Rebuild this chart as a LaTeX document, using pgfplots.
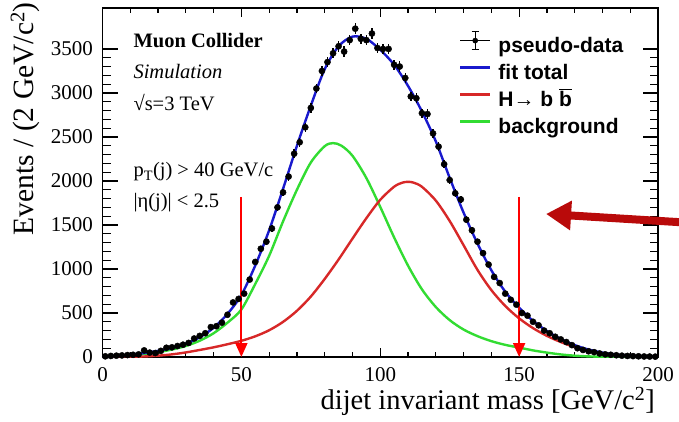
\documentclass[border=0pt]{standalone}
\usepackage{fontspec}
\setmainfont{Liberation Serif}
\newfontfamily\helv{Liberation Sans}
\usepackage{pgfplots}
\pgfplotsset{compat=1.18}
\usepackage{pgfplotstable}
\usetikzlibrary{arrows.meta}

\definecolor{fitblue}{RGB}{25,25,205}
\definecolor{sigred}{RGB}{215,40,40}
\definecolor{bkggreen}{RGB}{50,220,50}
\definecolor{arrowred}{RGB}{185,10,10}
\definecolor{cutred}{RGB}{255,0,0}

% pseudo-data: bin centre, events per 2 GeV/c^2, statistical error
\pgfplotstableread{
x y ey
1 8 2.8
3 12 3.5
5 15 3.9
7 18 4.2
9 22 4.7
11 25 5.0
13 30 5.5
15 75 8.7
17 50 7.1
19 45 6.7
21 70 8.4
23 105 10.2
25 110 10.5
27 125 11.2
29 140 11.8
31 160 12.6
33 210 14.5
35 240 15.5
37 270 16.4
39 340 18.4
41 350 18.7
43 390 19.7
45 480 21.9
47 620 24.9
49 660 25.7
51 720 26.8
53 880 29.7
55 1080 32.9
57 1230 35.1
59 1310 36.2
61 1460 38.2
63 1700 41.2
65 1870 43.2
67 2050 45.3
69 2310 48.1
71 2440 49.4
73 2610 51.1
75 2830 53.2
77 3050 55.2
79 3250 57.0
81 3350 57.9
83 3450 58.7
85 3530 59.4
87 3470 58.9
89 3600 60.0
91 3730 61.1
93 3615 60.1
95 3600 60.0
97 3675 60.6
99 3510 59.2
101 3500 59.2
103 3500 59.2
105 3320 57.6
107 3300 57.4
109 3170 56.3
111 2960 54.4
113 2940 54.2
115 2770 52.6
117 2760 52.5
119 2540 50.4
121 2390 48.9
123 2190 46.8
125 2010 44.8
127 1860 43.1
129 1790 42.3
131 1560 39.5
133 1440 37.9
135 1310 36.2
137 1180 34.4
139 1050 32.4
141 910 30.2
143 840 29.0
145 720 26.8
147 650 25.5
149 595 24.4
151 500 22.4
153 470 21.7
155 400 20.0
157 360 19.0
159 300 17.3
161 270 16.4
163 230 15.2
165 200 14.1
167 170 13.0
169 135 11.6
171 100 10.0
173 80 8.9
175 65 8.1
177 55 7.4
179 40 6.3
181 30 5.5
183 25 5.0
185 20 4.5
187 15 3.9
189 12 3.5
191 10 3.2
193 8 2.8
195 6 2.4
197 5 2.2
199 4 2.0
}\pseudodata

% fitted total
\pgfplotstableread{
x y
0 5
5 12
10 25
15 45
20 70
25 104
30 152
35 224
40 332
45 490
50 705
55 1040
60 1440
65 1910
70 2400
75 2855
80 3270
85 3530
90 3640
95 3615
100 3490
105 3320
110 3080
115 2790
120 2450
125 2035
130 1640
135 1290
140 985
145 742
150 560
155 410
160 295
165 205
170 135
175 85
180 50
185 27
190 14
195 7
200 3
}\fittotal

% H -> b bbar component
\pgfplotstableread{
x y
0 0
10 2
15 6
20 15
25 30
30 52
35 80
40 110
45 145
50 184
55 235
60 304
65 399
70 525
75 687
80 887
85 1108
90 1345
95 1577
100 1786
105 1935
108 1981
110 1990
112 1981
115 1934
120 1777
125 1545
130 1270
135 990
140 760
145 580
150 439
155 328
160 240
165 170
170 112
175 68
180 39
185 22
190 12
195 6
200 3
}\signal

% background component
\pgfplotstableread{
x y
0 3
5 8
10 18
15 33
20 55
25 85
30 125
35 185
40 270
45 390
50 540
55 830
60 1150
65 1540
70 1900
75 2210
80 2395
83 2430
86 2401
90 2286
95 2033
100 1705
105 1358
110 1038
115 769
120 568
125 419
130 312
135 237
140 180
145 138
150 107
155 75
160 50
165 29
170 15
175 7
180 3
190 1
200 0
}\background

% mass window edges
\pgfplotstableread{
x y
50 1820
50 0
}\lowcut
\pgfplotstableread{
x y
150 1820
150 0
}\highcut

\begin{document}
\begin{tikzpicture}[x=1bp,y=1bp]
\useasboundingbox (0,0) rectangle (679,421);
\begin{axis}[
  at={(102.5bp,64bp)}, anchor=south west,
  scale only axis, width=555.5bp, height=349bp,
  xmin=0, xmax=200, ymin=0, ymax=3965,
  xtick={0,50,...,200}, minor x tick num=4,
  ytick={0,500,...,3500}, minor y tick num=4,
  tick align=inside, tick pos=both,
  axis line style={line width=1.4bp},
  major tick length=12bp, minor tick length=6bp,
  xtick style={line width=1.2bp, black, /pgfplots/major tick length=9bp, /pgfplots/minor tick length=5bp},
  ytick style={line width=1.2bp, black, /pgfplots/major tick length=15bp, /pgfplots/minor tick length=8bp},
  /pgf/number format/assume math mode=true,
  /pgf/number format/1000 sep={},
  scaled y ticks=false,
  ticklabel style={font=\fontsize{21bp}{24bp}\selectfont},
  yticklabel style={anchor=east, inner sep=0bp, xshift=-9.5bp},
  xticklabel style={anchor=north, inner sep=0bp, yshift=-10bp},
  xlabel={dijet invariant mass [GeV/c\textsuperscript{2}]},
  ylabel={Events / (2 GeV/c\textsuperscript{2})},
  xlabel style={at={(axis description cs:0.9946,-0.149)}, anchor=base east, inner sep=0bp,
    font=\fontsize{28.5bp}{32bp}\selectfont},
  ylabel style={at={(axis description cs:-0.1246,1.017)}, anchor=base east, inner sep=0bp,
    font=\fontsize{29.5bp}{33bp}\selectfont},
  legend style={
    at={(axis description cs:0.6418,0.9341)}, anchor=north west,
    draw=none, fill=none, inner sep=0bp, outer sep=0bp,
    font=\helv\bfseries\fontsize{21bp}{25bp}\selectfont,
    row sep=0bp,
    nodes={inner sep=0bp, text height=19bp, text depth=8bp},
  },
  legend cell align=left,
]

% fit components and total
\addplot[bkggreen, line width=2.4bp, smooth, forget plot] table {\background};
\addplot[sigred, line width=2.4bp, smooth, forget plot] table {\signal};
\addplot[fitblue, line width=2.4bp, smooth, forget plot] table {\fittotal};

% mass window
\addplot[draw=cutred, line width=2bp, -{Triangle[length=14bp,width=12bp,fill=cutred]}, forget plot]
  table {\lowcut};
\addplot[draw=cutred, line width=2bp, -{Triangle[length=14bp,width=12bp,fill=cutred]}, forget plot]
  table {\highcut};

% pseudo-data with statistical errors
\addplot[black, only marks, mark=*, mark size=3.1bp,
  error bars/.cd, x dir=both, x fixed=1, y dir=both, y explicit,
  error mark=none, error bar style={line width=1.4bp, black}]
  table[x=x, y=y, y error=ey] {\pseudodata};
\addlegendentry{pseudo-data}
\pgfplotsset{legend image code/.code={%
  \draw[black, line width=1.2bp] (0bp,6bp) -- (30bp,6bp);
  \draw[black, line width=1.2bp] (15bp,-3bp) -- (15bp,15bp);
  \draw[black, line width=1.2bp] (11.5bp,-3bp) -- (18.5bp,-3bp);
  \draw[black, line width=1.2bp] (11.5bp,15bp) -- (18.5bp,15bp);
  \fill[black] (15bp,6bp) circle (2.6bp);
  \path (38bp,6bp);}}

\addlegendimage{legend image code/.code={\draw[fitblue, line width=2.4bp] (0bp,6bp) -- (30bp,6bp); \path (38bp,6bp);}}
\addlegendentry{fit total}
\addlegendimage{legend image code/.code={\draw[sigred, line width=2.4bp] (0bp,6bp) -- (30bp,6bp); \path (38bp,6bp);}}
\addlegendentry{H→ b $\overline{\mbox{b}}$}
\addlegendimage{legend image code/.code={\draw[bkggreen, line width=2.4bp] (0bp,6bp) -- (30bp,6bp); \path (38bp,6bp);}}
\addlegendentry{background}

% labels
\node[anchor=base west, font=\fontsize{20.5bp}{24bp}\selectfont\bfseries]
  at (axis description cs:0.0495,0.888) {Muon Collider};
\node[anchor=base west, font=\fontsize{20.5bp}{24bp}\selectfont\itshape]
  at (axis description cs:0.0495,0.797) {Simulation};
\node[anchor=base west, font=\fontsize{20.5bp}{24bp}\selectfont]
  at (axis description cs:0.0495,0.705) {√s=3 TeV};
\node[anchor=base west, font=\fontsize{20.5bp}{24bp}\selectfont]
  at (axis description cs:0.0495,0.516) {p\textsubscript{T}(j) > 40 GeV/c};
\node[anchor=base west, font=\fontsize{20.5bp}{24bp}\selectfont]
  at (axis description cs:0.0495,0.427) {|η(j)| < 2.5};

\coordinate (bigtip) at (axis cs:159.7,1625);
\coordinate (bigtail) at (axis cs:209.7,1528);
\end{axis}
\draw[arrowred, line width=8bp, -{Triangle[length=25bp,width=28bp]}] (bigtail) -- (bigtip);
\end{tikzpicture}
\end{document}
